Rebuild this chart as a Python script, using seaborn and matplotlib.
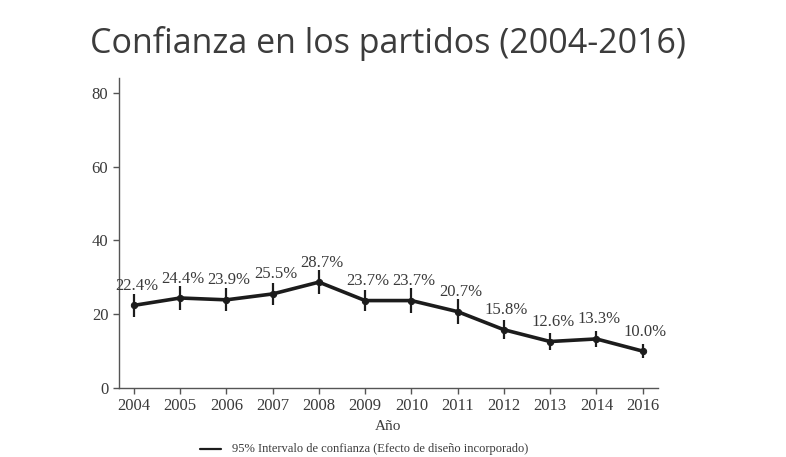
import matplotlib
matplotlib.use("Agg")
import matplotlib.pyplot as plt
import seaborn as sns
import pandas as pd

### values
years = ['2004', '2005', '2006', '2007', '2008', '2009',
         '2010', '2011', '2012', '2013', '2014', '2016']
confianza = [22.4, 24.4, 23.9, 25.5, 28.7, 23.7, 23.7, 20.7, 15.8, 12.6, 13.3, 10.0]
ci_half = [3.2, 3.2, 3.1, 2.9, 3.2, 2.8, 3.4, 3.3, 2.6, 2.2, 2.2, 1.8]
y_ticks = [0, 20, 40, 60, 80]

df = pd.DataFrame({'year': years, 'valor': confianza, 'ci': ci_half})

sns.set_style('white')
plt.rcParams['font.family'] = ['Liberation Serif', 'DejaVu Serif']

fig = plt.figure(figsize=(7.86, 4.57), dpi=100)
ax = fig.add_axes([0.151, 0.151, 0.686, 0.678])

line_col = '#1c1c1c'
text_col = '#3a3a3a'

### confidence interval bars
ax.errorbar(df['year'], df['valor'], yerr=df['ci'], fmt='none',
            ecolor=line_col, elinewidth=1.6, capsize=0, zorder=2)

### main line
sns.lineplot(data=df, x='year', y='valor', ax=ax, color=line_col,
             linewidth=2.6, marker='o', markersize=4.5, sort=False,
             markeredgecolor=line_col, markerfacecolor=line_col,
             errorbar=None, zorder=3)

### labels above each point
for yr, v in zip(years, confianza):
    ax.annotate(f'{v:.1f}%', (yr, v), xytext=(2, 14), textcoords='offset points',
                ha='center', va='center', fontsize=12, color=text_col)

ax.set_ylim(0, 84)
ax.set_xlim(-0.33, len(years) - 1 + 0.33)
ax.set_yticks(y_ticks)
ax.set_xlabel('Año', fontsize=11, color=text_col, labelpad=4)
ax.set_ylabel('')

for s in ['top', 'right']:
    ax.spines[s].set_visible(False)
for s in ['left', 'bottom']:
    ax.spines[s].set_color('#555555')
    ax.spines[s].set_linewidth(1.0)

ax.tick_params(axis='both', which='major', direction='out', length=4, width=1,
               color='#555555', labelsize=12, labelcolor=text_col,
               left=True, bottom=True)

### title
fig.text(0.494, 0.905, 'Confianza en los partidos (2004-2016)',
         family=['Open Sans', 'DejaVu Sans'], fontsize=24.5, color='#3c3c3c',
         ha='center', va='center')

### legend line
fig.lines.append(plt.Line2D([200 / 786, 221 / 786], [1 - 449 / 457, 1 - 449 / 457],
                            transform=fig.transFigure, color=line_col, linewidth=1.6))
fig.text(232 / 786, 1 - 449 / 457,
         '95% Intervalo de confianza (Efecto de diseño incorporado)',
         fontsize=9, color=text_col, ha='left', va='center')

fig.savefig('out.png', dpi=100)
